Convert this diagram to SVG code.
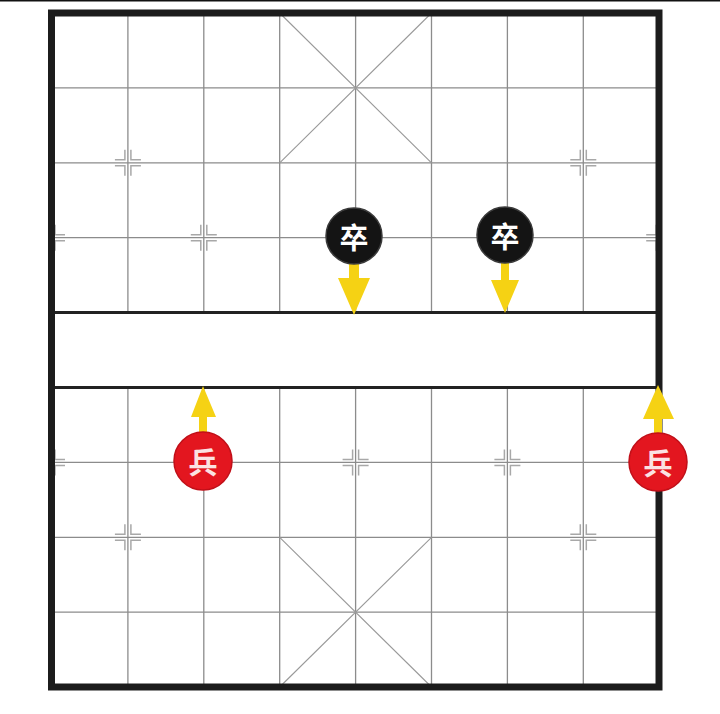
<svg xmlns="http://www.w3.org/2000/svg" width="720" height="714" viewBox="0 0 720 714">
<style>
.grid{stroke:#8c8c8c;stroke-width:1.3;fill:none}
.diag{stroke:#9a9a9a;stroke-width:1.1;fill:none}
.river{stroke:#222;stroke-width:3;fill:none}
.border{stroke:#1c1c1c;stroke-width:7;fill:none}
.mark{stroke:#a8a8a8;stroke-width:1.5;fill:none}
.arrow{fill:#f5d214}
.black{fill:#141414;stroke:#3a3a3a;stroke-width:1.5}
.red{fill:#e3161f;stroke:#c10f18;stroke-width:1.5}
.pt{font-family:"Noto Sans CJK SC","Noto Sans CJK TC",sans-serif;font-weight:bold;font-size:29px;text-anchor:middle;dominant-baseline:central}
</style>
<defs>
<path id="mk" d="M3,-13V-3H13M-3,-13V-3H-13M3,13V3H13M-3,13V3H-13"/>
<path id="mkR" d="M3,-13V-3H13M3,13V3H13"/>
<path id="mkL" d="M-3,-13V-3H-13M-3,13V3H-13"/>
</defs>
<rect width="720" height="714" fill="#ffffff"/>
<line x1="0" y1="0.75" x2="720" y2="0.75" stroke="#111" stroke-width="1.5"/>
<g id="board">
<g class="grid">
<path d="M52,87.9H659.2M52,162.8H659.2M52,237.7H659.2M52,462.4H659.2M52,537.3H659.2M52,612.2H659.2"/>
<path d="M127.9,13V312.6M203.8,13V312.6M279.7,13V312.6M355.6,13V312.6M431.5,13V312.6M507.4,13V312.6M583.3,13V312.6"/>
<path d="M127.9,387.5V687M203.8,387.5V687M279.7,387.5V687M355.6,387.5V687M431.5,387.5V687M507.4,387.5V687M583.3,387.5V687"/>
</g>
<g class="diag">
<path d="M279.7,13L431.5,162.8M431.5,13L279.7,162.8"/>
<path d="M279.7,537.3L431.5,687M431.5,537.3L279.7,687"/>
</g>
<g class="mark">
<use href="#mk" x="127.9" y="162.8"/>
<use href="#mk" x="583.3" y="162.8"/>
<use href="#mk" x="127.9" y="537.3"/>
<use href="#mk" x="583.3" y="537.3"/>
<use href="#mkR" x="52" y="237.7"/>
<use href="#mk" x="203.8" y="237.7"/>
<use href="#mk" x="355.6" y="237.7"/>
<use href="#mk" x="507.4" y="237.7"/>
<use href="#mkL" x="659.2" y="237.7"/>
<use href="#mkR" x="52" y="462.4"/>
<use href="#mk" x="203.8" y="462.4"/>
<use href="#mk" x="355.6" y="462.4"/>
<use href="#mk" x="507.4" y="462.4"/>
<use href="#mkL" x="659.2" y="462.4"/>
</g>
<path class="river" d="M52,312.6H659.2M52,387.5H659.2"/>
<rect class="border" x="51.5" y="13" width="607.5" height="674"/>
</g>
<g id="connectors">
<path class="arrow" d="M349,262H359V278H370L354,315L338,278H349Z"/>
<path class="arrow" d="M501,262H509V280H519L505,313L491,280H501Z"/>
<path class="arrow" d="M199,434V417H191L203,386L216,417H207V434Z"/>
<path class="arrow" d="M654,434V419H643L658,385L674,419H662V434Z"/>
</g>
<g id="black-zu-1">
<circle class="black" cx="354" cy="236" r="28"/>
<text class="pt" x="354" y="236" fill="#ffffff">卒</text>
</g>
<g id="black-zu-2">
<circle class="black" cx="505" cy="235" r="28"/>
<text class="pt" x="505" y="235" fill="#ffffff">卒</text>
</g>
<g id="red-bing-1">
<circle class="red" cx="203" cy="461" r="29"/>
<text class="pt" x="203" y="461" fill="#fbe2e2">兵</text>
</g>
<g id="red-bing-2">
<circle class="red" cx="658" cy="462" r="29"/>
<text class="pt" x="658" y="462" fill="#fbe2e2">兵</text>
</g>
</svg>
